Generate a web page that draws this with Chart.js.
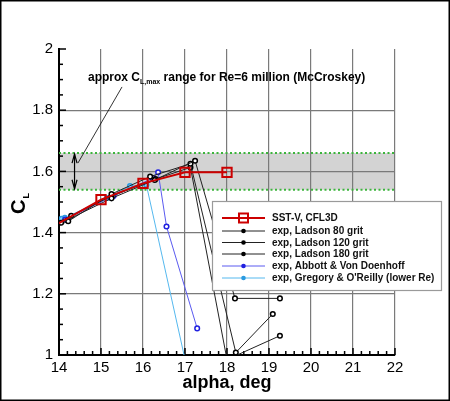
<!DOCTYPE html>
<html><head><meta charset="utf-8">
<script src="https://cdn.jsdelivr.net/npm/chart.js@4.4.1/dist/chart.umd.min.js"></script>
<style>
html,body{margin:0;padding:0;background:#fff;}
#wrap{position:relative;width:450px;height:401px;}
</style></head><body>
<div id="wrap"><canvas id="c" width="450" height="401"></canvas></div>
<script>
// ---- data ----
const xTicks = [14, 15, 16, 17, 18, 19, 20, 21, 22];
const yTicks = [1, 1.2, 1.4, 1.6, 1.8, 2];
const seriesNames = ["SST-V, CFL3D", "exp, Ladson 80 grit", "exp, Ladson 120 grit", "exp, Ladson 180 grit", "exp, Abbott & Von Doenhoff", "exp, Gregory & O'Reilly (lower Re)"];
const sstAlpha = [13, 15, 16, 17, 18];
const sstCL = [1.354, 1.508, 1.561, 1.597, 1.597];
const lad80Alpha = [13.1, 14.05, 15.25, 16.28, 17.24, 18.19, 19.26];
const lad80CL = [1.37, 1.432, 1.512, 1.572, 1.635, 1.185, 1.185];
const lad120Alpha = [13.2, 14.22, 15.25, 16.17, 17.13, 18.21, 19.09];
const lad120CL = [1.38, 1.437, 1.526, 1.583, 1.625, 1.008, 1.134];
const lad180Alpha = [13.3, 14.29, 15.25, 16.30, 17.13, 18.0, 19.26];
const lad180CL = [1.39, 1.455, 1.519, 1.575, 1.613, 0.985, 1.063];
const abbottAlpha = [13.2, 14.15, 15.3, 16.24, 16.36, 16.56, 17.29];
const abbottCL = [1.38, 1.443, 1.52, 1.578, 1.597, 1.42, 1.087];
const gregAlpha = [13.1, 14.06, 14.14, 15.14, 15.69, 16.08, 17.1];
const gregCL = [1.375, 1.445, 1.448, 1.513, 1.552, 1.556, 0.924];
const bandLow = 1.54, bandHigh = 1.66;
const annotationParts = ["approx C", "L,max", " range for Re=6 million (McCroskey)"];
const xTitle = "alpha, deg";
const yTitleParts = ["C", "L"];

const pts = (xs, ys) => xs.map((v, i) => ({x: v, y: ys[i]}));

const styles = [
  {c:'#cc0000', w:2, ps:'rect', pr:6.6, pb:'rgba(0,0,0,0)', pc:'#cc0000', pw:2},
  {c:'#222222', w:1, ps:'circle', pr:2.3, pb:'#ffffff', pc:'#000000', pw:1.5},
  {c:'#222222', w:1, ps:'circle', pr:2.3, pb:'#ffffff', pc:'#000000', pw:1.5},
  {c:'#222222', w:1, ps:'circle', pr:2.3, pb:'#ffffff', pc:'#000000', pw:1.5},
  {c:'#5a5af0', w:1, ps:'circle', pr:2.3, pb:'#ffffff', pc:'#2020e0', pw:1.5},
  {c:'#55b8ee', w:1, ps:'circle', pr:2.3, pb:'#8fd4ff', pc:'#2a9ae0', pw:1.5}
];
const dataList = [pts(sstAlpha, sstCL), pts(lad80Alpha, lad80CL), pts(lad120Alpha, lad120CL), pts(lad180Alpha, lad180CL), pts(abbottAlpha, abbottCL), pts(gregAlpha, gregCL)];

const datasets = dataList.map((d, i) => ({
  label: seriesNames[i], data: d, showLine: true, tension: 0,
  borderColor: styles[i].c, borderWidth: styles[i].w,
  pointStyle: styles[i].ps, pointRadius: styles[i].pr,
  pointBackgroundColor: styles[i].pb, pointBorderColor: styles[i].pc, pointBorderWidth: styles[i].pw
}));

const FONT = "'Liberation Sans', Arial, Helvetica, sans-serif";

const decor = {
  id: 'decor',
  beforeDraw(chart) {
    const {ctx, chartArea: a, scales: {x, y}} = chart;
    ctx.save();
    ctx.fillStyle = '#fff'; ctx.fillRect(0, 0, chart.width, chart.height);
    const yt = y.getPixelForValue(bandHigh), yb = y.getPixelForValue(bandLow);
    ctx.fillStyle = '#d3d3d3'; ctx.fillRect(a.left, yt, a.right - a.left, yb - yt);
    ctx.restore();
  },
  beforeDatasetsDraw(chart) {
    const {ctx, chartArea: a, scales: {x, y}} = chart;
    ctx.save();
    ctx.strokeStyle = '#3cb43c'; ctx.lineWidth = 2; ctx.setLineDash([2, 2.5]);
    [bandHigh, bandLow].forEach(v => {
      const py = y.getPixelForValue(v);
      ctx.beginPath(); ctx.moveTo(a.left, py); ctx.lineTo(a.right, py); ctx.stroke();
    });
    ctx.setLineDash([]);
    ctx.strokeStyle = '#000'; ctx.lineWidth = 1.5;
    for (let k = 0; k <= 40; k++) {
      const v = 14 + k * 0.2; const px = x.getPixelForValue(v);
      const len = (k % 5 === 0) ? 7 : 4;
      ctx.beginPath(); ctx.moveTo(px, a.bottom); ctx.lineTo(px, a.bottom - len); ctx.stroke();
    }
    for (let k = 0; k <= 20; k++) {
      const v = 1 + k * 0.05; const py = y.getPixelForValue(v);
      const len = (k % 4 === 0) ? 7 : 4;
      ctx.beginPath(); ctx.moveTo(a.left, py); ctx.lineTo(a.left + len, py); ctx.stroke();
    }
    const ax = x.getPixelForValue(14.37);
    const at = y.getPixelForValue(bandHigh) + 1, ab = y.getPixelForValue(bandLow) - 1;
    ctx.lineWidth = 1.2;
    ctx.beginPath(); ctx.moveTo(ax, at); ctx.lineTo(ax, ab); ctx.stroke();
    ctx.beginPath(); ctx.moveTo(ax - 2.5, at + 9); ctx.lineTo(ax, at); ctx.lineTo(ax + 2.5, at + 9); ctx.stroke();
    ctx.beginPath(); ctx.moveTo(ax - 2.5, ab - 9); ctx.lineTo(ax, ab); ctx.lineTo(ax + 2.5, ab - 9); ctx.stroke();
    ctx.lineWidth = 0.8;
    ctx.beginPath();
    ctx.moveTo(x.getPixelForValue(15.5), y.getPixelForValue(1.876));
    ctx.lineTo(x.getPixelForValue(14.45), y.getPixelForValue(1.627));
    ctx.stroke();
    let tx = x.getPixelForValue(14.69), ty = y.getPixelForValue(1.895);
    ctx.fillStyle = '#000'; ctx.textBaseline = 'alphabetic'; ctx.textAlign = 'left';
    ctx.font = 'bold 12px ' + FONT;
    ctx.fillText(annotationParts[0], tx, ty); tx += ctx.measureText(annotationParts[0]).width;
    ctx.font = 'bold 7px ' + FONT;
    ctx.fillText(annotationParts[1], tx, ty + 3); tx += ctx.measureText(annotationParts[1]).width;
    ctx.font = 'bold 12px ' + FONT;
    ctx.fillText(annotationParts[2], tx, ty);
    ctx.restore();
  },
  afterDatasetsDraw(chart) {
    const {ctx} = chart;
    ctx.save();
    const lx = 212, ly = 201, lw = 229, lh = 89;
    ctx.fillStyle = '#fff'; ctx.fillRect(lx, ly, lw, lh);
    ctx.strokeStyle = '#9a9a9a'; ctx.lineWidth = 1.2; ctx.strokeRect(lx + 0.5, ly + 0.5, lw, lh);
    const rows = [218, 231, 242.5, 254, 266, 278];
    ctx.font = 'bold 10px ' + FONT; ctx.textBaseline = 'middle'; ctx.textAlign = 'left';
    seriesNames.forEach((n, i) => {
      const s = styles[i], ry = rows[i];
      ctx.strokeStyle = s.c; ctx.lineWidth = s.w;
      ctx.beginPath(); ctx.moveTo(222, ry); ctx.lineTo(265, ry); ctx.stroke();
      if (s.ps === 'rect') {
        ctx.lineWidth = s.pw; ctx.strokeStyle = s.pc;
        ctx.strokeRect(243.5 - 4.5, ry - 4.5, 9, 9);
      } else {
        ctx.beginPath(); ctx.arc(243.5, ry, 2.3, 0, Math.PI * 2);
        ctx.fillStyle = s.pc; ctx.fill();
      }
      ctx.fillStyle = '#111'; ctx.fillText(n, 272, ry + 0.5);
    });
    ctx.fillStyle = '#000'; ctx.textBaseline = 'alphabetic';
    ctx.font = 'bold 18px ' + FONT; ctx.textAlign = 'center';
    ctx.fillText(xTitle, 227, 388);
    ctx.translate(25, 214); ctx.rotate(-Math.PI / 2);
    ctx.textAlign = 'left';
    ctx.font = 'bold 20px ' + FONT;
    ctx.fillText(yTitleParts[0], 0, 0);
    const cw = ctx.measureText(yTitleParts[0]).width;
    ctx.font = 'bold 9px ' + FONT;
    ctx.fillText(yTitleParts[1], cw + 1, 4);
    ctx.setTransform(1, 0, 0, 1, 0, 0);
    ctx.strokeStyle = '#000'; ctx.lineWidth = 1.5;
    ctx.strokeRect(0.75, 0.75, chart.width - 1.5, chart.height - 1.5);
    ctx.restore();
  }
};

new Chart(document.getElementById('c'), {
  type: 'scatter',
  data: {datasets},
  options: {
    responsive: false, animation: false, devicePixelRatio: 1,
    layout: {padding: {top: 49, right: 55, left: 0, bottom: 0}},
    plugins: {legend: {display: false}, tooltip: {enabled: false}},
    scales: {
      x: {
        type: 'linear', min: 14, max: 22,
        afterBuildTicks: s => { s.ticks = xTicks.map(v => ({value: v})); },
        afterFit: s => { s.height = 46; },
        ticks: {font: {family: FONT, size: 15}, color: '#000', padding: 4, callback: v => String(v)},
        grid: {color: '#7a7a7a', lineWidth: 1.2, drawTicks: false},
        border: {display: true, color: '#000', width: 2}
      },
      y: {
        type: 'linear', min: 1, max: 2,
        afterBuildTicks: s => { s.ticks = yTicks.map(v => ({value: v})); },
        afterFit: s => { s.width = 59; },
        ticks: {font: {family: FONT, size: 15}, color: '#000', padding: 6, callback: v => String(Math.round(v * 10) / 10)},
        grid: {color: c => (c.tick && c.tick.value === 2) ? 'rgba(0,0,0,0)' : '#7a7a7a', lineWidth: 1.2, drawTicks: false},
        border: {display: true, color: '#000', width: 2}
      }
    }
  },
  plugins: [decor]
});
</script>
</body></html>
